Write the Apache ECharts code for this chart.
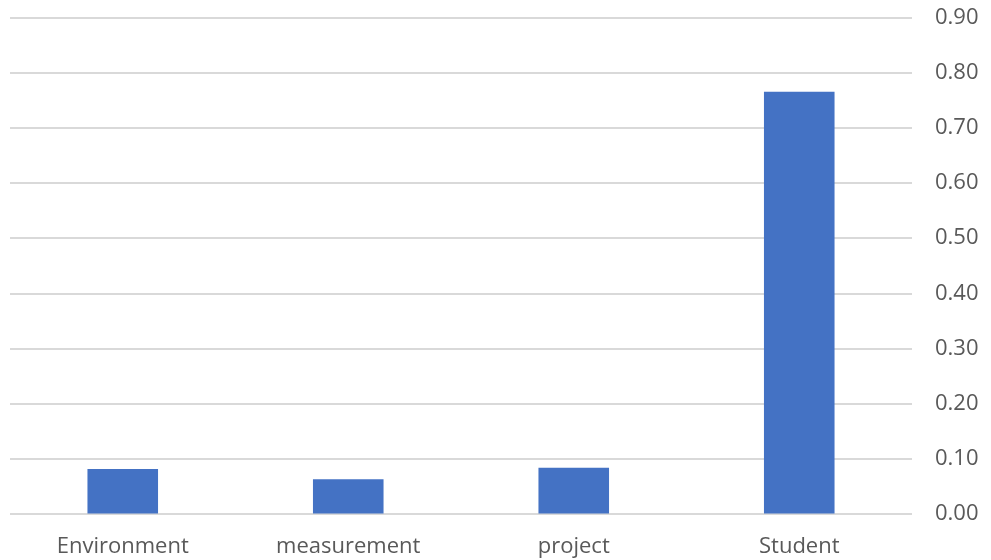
<!DOCTYPE html>
<html>
<head>
<meta charset="utf-8">
<style>
  html, body { margin: 0; padding: 0; background: #ffffff; }
  #chart { width: 991px; height: 560px; }
</style>
<script src="https://cdn.jsdelivr.net/npm/echarts@6/dist/echarts.min.js"></script>
</head>
<body>
<div id="chart"></div>
<script>
// Categories and their scores
const categories = ['Environment', 'measurement', 'project', 'Student'];
const scores = [0.081, 0.062, 0.083, 0.766];
// Value axis range
const axisMin = 0;
const axisMax = 0.9;
const axisStep = 0.1;

const chart = echarts.init(document.getElementById('chart'), null, { renderer: 'canvas' });
chart.setOption({
  animation: false,
  backgroundColor: '#ffffff',
  grid: { left: 10, right: 79, top: 18, bottom: 46.5, containLabel: false },
  xAxis: {
    type: 'category',
    data: categories,
    axisLine: { show: false },
    axisTick: { show: false },
    axisLabel: {
      color: '#595959',
      fontFamily: 'Open Sans',
      fontSize: 22,
      margin: 22
    }
  },
  yAxis: {
    type: 'value',
    position: 'right',
    min: axisMin,
    max: axisMax,
    interval: axisStep,
    axisLine: { show: false },
    axisTick: { show: false },
    splitLine: { lineStyle: { color: '#d9d9d9', width: 2 } },
    axisLabel: {
      color: '#595959',
      fontFamily: 'Open Sans',
      fontSize: 22,
      margin: 23,
      formatter: v => v.toFixed(2)
    }
  },
  series: [{
    type: 'bar',
    data: scores,
    barWidth: '31.3%',
    itemStyle: { color: '#4472c4' }
  }]
});
</script>
</body>
</html>
